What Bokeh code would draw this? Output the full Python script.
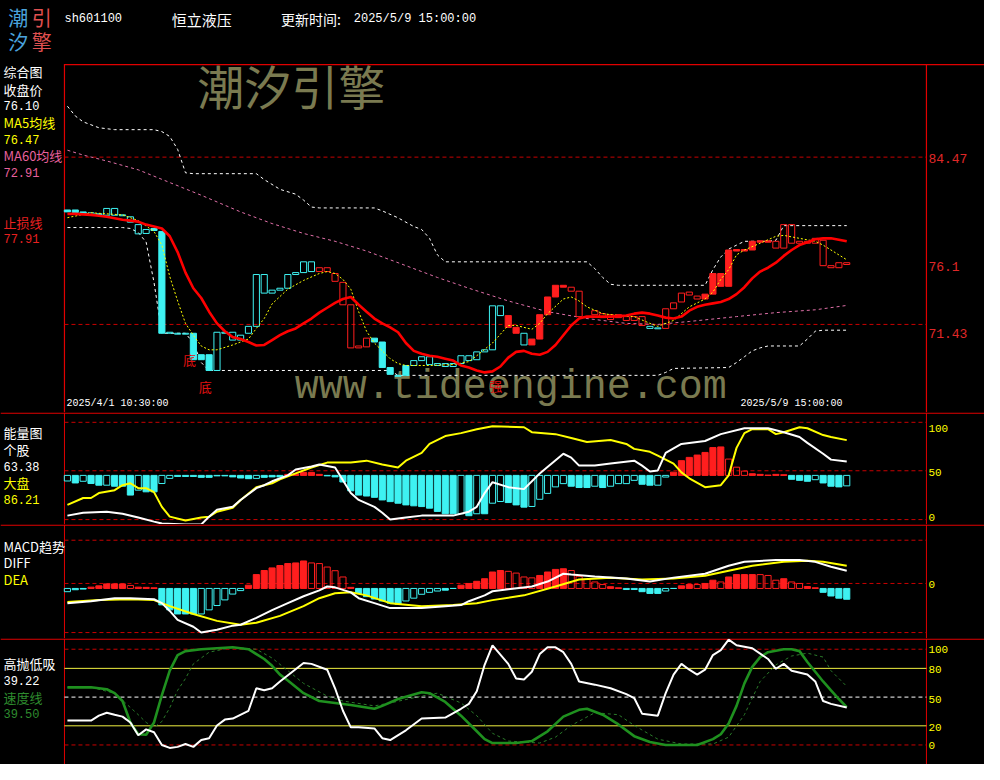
import re
from bokeh.plotting import figure
from bokeh.models import ColumnDataSource, Range1d, Span, Label
from bokeh.layouts import column
from bokeh.embed import file_html
from bokeh.resources import INLINE
from bokeh.core.properties import value

# ---------------- data (60-minute bars, 2025/4/1 10:30 -> 2025/5/9 15:00) ----------------
STOCK_CODE = "sh601100"
STOCK_NAME = "恒立液压"
UPDATE_LABEL = "更新时间:"
UPDATE_TIME = "2025/5/9 15:00:00"
FIRST_BAR_TIME = "2025/4/1 10:30:00"
LAST_BAR_TIME = "2025/5/9 15:00:00"

OPEN = [80.35, 80.35, 80.20, 80.13, 80.05, 79.94, 80.47, 79.97, 79.82, 79.21,
        78.52, 78.91, 78.68, 70.74, 70.74, 70.67, 70.74, 69.07, 69.07, 67.84,
        70.74, 70.82, 70.21, 70.74, 71.28, 75.32, 73.87, 74.10, 74.25, 75.32,
        75.47, 76.31, 75.55, 75.85, 75.40, 74.71, 72.96, 69.60, 69.68, 70.36,
        70.06, 68.07, 67.46, 67.46, 68.23, 68.61, 68.91, 68.23, 68.38, 68.15,
        68.38, 68.99, 68.68, 69.29, 69.45, 72.88, 72.12, 71.20, 70.74, 69.83,
        70.29, 72.19, 73.57, 74.48, 74.33, 74.02, 72.04, 72.19, 72.27, 71.81,
        72.19, 71.74, 72.04, 72.04, 71.28, 71.16, 71.12, 72.65, 73.18, 73.72,
        73.64, 73.41, 73.79, 75.40, 74.40, 77.15, 77.27, 77.23, 77.84, 77.95,
        77.38, 77.38, 79.21, 77.76, 77.91, 77.76, 77.99, 76.01, 75.85, 76.24]
CLOSE = [80.20, 80.16, 80.05, 79.97, 79.97, 80.47, 79.94, 79.90, 79.40, 78.49,
         78.83, 78.75, 70.74, 70.82, 70.67, 70.74, 68.68, 68.68, 67.84, 70.82,
         70.82, 70.21, 70.59, 71.28, 75.32, 73.87, 74.10, 74.25, 75.32, 75.47,
         76.31, 75.55, 75.85, 75.55, 74.79, 72.96, 69.60, 69.75, 70.36, 70.06,
         68.07, 67.54, 67.39, 68.23, 68.61, 68.91, 68.30, 68.38, 68.15, 68.38,
         68.99, 68.61, 69.29, 69.45, 72.88, 72.12, 71.20, 70.74, 69.83, 70.29,
         72.19, 73.57, 74.48, 74.33, 74.02, 72.04, 71.96, 72.50, 71.96, 72.19,
         71.96, 72.04, 71.74, 71.35, 71.12, 71.09, 72.65, 73.11, 73.87, 73.95,
         73.41, 73.79, 75.40, 74.40, 77.23, 77.27, 77.15, 77.91, 77.95, 77.84,
         77.91, 79.21, 77.76, 77.91, 77.76, 78.14, 76.01, 75.85, 76.24, 76.10]
CANDLE_COLOR = (["c"] * 32 + ["r"] * 7 + ["c"] * 17 + ["r"] * 2 + ["c"] +
                ["r"] * 15 + ["c"] * 2 + ["r"] * 24)
CANDLE_SOLID = [1, 1, 1, 0, 1, 0, 0, 0, 0, 0,
                0, 1, 1, 0, 0, 0, 1, 1, 1, 0,
                0, 0, 0, 0, 0, 0, 0, 0, 0, 0,
                0, 0, 0, 0, 0, 0, 0, 0, 0, 1,
                1, 1, 1, 1, 0, 0, 0, 0, 0, 0,
                0, 0, 0, 0, 0, 0, 1, 1, 0, 1,
                1, 1, 1, 1, 0, 0, 0, 0, 0, 0,
                0, 0, 0, 0, 0, 0, 0, 0, 0, 0,
                0, 1, 1, 1, 1, 1, 1, 1, 1, 1,
                0, 0, 0, 0, 0, 0, 0, 0, 0, 0]

STOP_LINE = [80.05, 80.05, 80.01, 79.97, 79.90, 79.82, 79.71, 79.59, 79.52, 79.44,
             79.21, 79.06, 78.91, 78.30, 77.07, 75.47, 74.25, 73.49, 72.42, 71.51,
             70.90, 70.44, 70.29, 70.06, 69.79, 69.83, 70.21, 70.59, 70.90, 71.12,
             71.51, 71.89, 72.35, 72.73, 73.11, 73.41, 73.57, 72.96, 72.42, 71.89,
             71.51, 71.20, 70.82, 69.98, 69.37, 69.14, 68.99, 68.91, 68.76, 68.61,
             68.23, 68.07, 67.84, 67.69, 67.77, 68.15, 68.84, 69.29, 69.37, 69.14,
             69.07, 69.29, 69.83, 70.59, 71.35, 71.89, 72.04, 72.04, 72.04, 72.04,
             72.08, 72.12, 72.27, 72.35, 72.27, 72.12, 71.96, 71.89, 72.04, 72.50,
             72.80, 72.96, 73.07, 73.18, 73.41, 73.79, 74.33, 75.02, 75.55, 75.85,
             76.24, 76.77, 77.23, 77.61, 77.84, 78.07, 78.14, 78.14, 78.03, 77.91]

MA5_X = [0, 3, 7, 9, 11, 12, 13, 14, 15, 16, 17, 18, 19, 21, 23, 24, 25, 26, 28, 30,
         32, 33, 34, 35, 36, 37, 38, 39, 40, 41, 42, 43, 46, 49, 51, 52, 54, 56, 57, 59,
         60, 61, 63, 64, 65, 66, 68, 70, 72, 74, 75, 77, 79, 81, 82, 83, 84, 85, 86, 88,
         90, 91, 93, 95, 96, 97, 98, 99]
MA5_Y = [79.75, 80.13, 79.97, 79.52, 78.68, 77.61, 75.17, 73.26, 71.51, 70.59,
         69.75, 69.45, 69.45, 69.83, 70.29, 71.12, 71.89, 73.03, 74.18, 74.86,
         75.40, 75.55, 75.40, 74.94, 74.18, 72.42, 70.90, 69.98, 69.37, 68.76,
         68.38, 68.23, 68.23, 68.30, 68.53, 68.99, 69.98, 71.35, 71.35, 71.05,
         71.51, 72.27, 73.41, 73.57, 73.26, 72.80, 72.27, 72.12, 72.04, 71.51,
         71.28, 71.74, 72.80, 73.41, 73.95, 74.94, 75.70, 76.85, 77.23, 77.76,
         78.30, 78.37, 78.14, 77.91, 77.61, 77.23, 76.85, 76.47]

MA60_X = [0, 2, 5, 9, 13, 17, 22, 26, 30, 34, 38, 42, 47, 51, 56, 61, 66, 71, 75, 79,
          85, 90, 95, 99]
MA60_Y = [85.01, 84.63, 84.17, 83.48, 82.49, 81.50, 80.20, 79.29, 78.52, 77.91,
          77.15, 76.24, 75.09, 74.25, 73.26, 72.42, 71.89, 71.51, 71.43, 71.66,
          72.04, 72.35, 72.57, 72.91]

UPPER_X = [0, 1, 2, 4, 6, 11, 12, 13, 14, 15, 16, 24, 25, 27, 29, 30, 31, 32, 39, 40,
           42, 44, 45, 46, 47, 48, 66, 67, 68, 69, 70, 81, 82, 83, 84, 85, 86, 89, 90, 91,
           99]
UPPER_Y = [88.44, 87.68, 87.22, 86.76, 86.61, 86.61, 86.46, 86.08, 85.08, 83.25,
           83.18, 83.18, 82.72, 81.96, 81.58, 81.12, 80.58, 80.51, 80.51, 80.28,
           79.74, 79.06, 78.83, 78.14, 76.85, 76.31, 76.31, 75.78, 75.09, 74.56,
           74.48, 74.48, 75.70, 76.69, 77.30, 77.61, 77.91, 77.91, 77.99, 79.13,
           79.13]
LOWER_X = [0, 7, 8, 9, 10, 11, 12, 15, 16, 17, 18, 41, 42, 75, 76, 77, 84, 85, 86, 87,
           88, 89, 93, 94, 95, 96, 99]
LOWER_Y = [78.98, 78.98, 78.91, 78.60, 77.84, 74.71, 70.74, 70.74, 69.98, 68.46,
           67.84, 67.84, 67.46, 67.46, 67.69, 68.00, 68.07, 68.46, 68.91, 69.37,
           69.60, 69.75, 69.75, 70.29, 70.90, 70.98, 70.98]

PRICE_LEVELS = [84.47, 71.43]
RIGHT_PRICE_TEXT = ["84.47", "76.1", "71.43"]
MAIN_LEGEND = [("综合图", "w"), ("收盘价", "w"), ("76.10", "w"), ("MA5均线", "y"), ("76.47", "y"),
               ("MA60均线", "p"), ("72.91", "p"), ("止损线", "r"), ("77.91", "r")]
SIGNAL_X = [15.5, 17.5, 54.4]
SIGNAL_Y = [68.68, 66.62, 66.70]
SIGNAL_TEXT = ["底", "底", "强"]

# energy panel
ENERGY_HIST = [-6.0, -8.1, -6.3, -8.7, -10.5, -10.5, -11.6, -11.6, -21.1, -15.8,
               -17.6, -17.6, -8.7, -3.2, -1.1, -1.1, -1.1, -2.1, -2.1, -0.5,
               -0.5, -1.6, -2.8, -3.5, -3.2, -2.1, -1.6, -1.6, 1.1, 1.6,
               3.2, 3.2, 1.1, -0.5, -1.6, -7.1, -16.5, -21.1, -22.1, -23.5,
               -26.3, -28.1, -29.8, -31.6, -32.6, -33.4, -35.1, -38.6, -41.1, -41.1,
               -41.1, -43.2, -41.1, -41.1, -29.8, -28.0, -29.1, -31.6, -34.0, -33.3,
               -25.6, -19.3, -12.3, -8.8, -11.6, -13.0, -13.0, -11.6, -13.0, -11.6,
               -8.8, -8.8, -5.3, -9.5, -10.5, -10.5, -1.8, 3.5, 15.8, 19.3,
               21.8, 24.6, 29.8, 30.5, 17.5, 8.8, 4.6, 1.8, 1.1, 0.3,
               1.1, 0.7, -4.2, -5.3, -6.3, -4.6, -8.1, -11.6, -12.3, -11.2]
ENERGY_SOLID = [0, 1, 0, 1, 1, 0, 1, 1, 1, 0,
                1, 1, 0, 0, 1, 1, 1, 1, 1, 1,
                1, 1, 1, 1, 0, 1, 1, 1, 1, 1,
                1, 1, 1, 1, 1, 1, 1, 1, 1, 1,
                1, 1, 1, 1, 1, 1, 1, 1, 1, 1,
                0, 1, 0, 1, 0, 0, 1, 1, 1, 0,
                0, 0, 0, 0, 1, 1, 1, 0, 1, 0,
                0, 0, 0, 1, 1, 0, 0, 1, 1, 1,
                1, 1, 1, 1, 0, 0, 0, 1, 1, 1,
                1, 1, 1, 1, 1, 0, 1, 1, 1, 0]
ENERGY_BASE = 48.4
STOCK_X = [0, 2, 5, 7, 9, 11, 12, 15, 17, 18, 19, 21, 22, 24, 25, 26, 28, 29, 31, 32,
           34, 35, 36, 37, 39, 40, 41, 43, 45, 47, 49, 51, 52, 53, 54, 56, 58, 60, 63, 64,
           65, 67, 69, 72, 73, 74, 75, 76, 78, 81, 83, 86, 89, 91, 93, 94, 96, 97, 99]
STOCK_Y = [5.3, 8.4, 9.5, 7.4, 3.2, -1.1, -3.2, -4.2, -4.2, 4.2,
           11.6, 14.7, 22.1, 34.7, 37.9, 42.1, 48.4, 54.7, 57.9, 60.0,
           56.8, 43.2, 29.5, 22.1, 14.7, 8.4, 1.1, 3.2, 5.3, 5.3,
           5.3, 9.5, 14.7, 29.5, 41.1, 35.8, 33.7, 50.5, 71.6, 67.4,
           58.9, 58.9, 61.1, 64.2, 58.9, 52.6, 53.7, 72.6, 82.1, 85.3,
           92.6, 98.9, 98.9, 94.7, 89.5, 83.2, 71.6, 65.3, 63.38]
MARKET_X = [0, 2, 3, 4, 6, 7, 8, 9, 10, 11, 12, 13, 15, 17, 18, 19, 21, 22, 24, 26,
            27, 29, 31, 33, 36, 38, 40, 42, 43, 45, 46, 48, 50, 52, 54, 58, 59, 62, 64, 66,
            69, 71, 72, 74, 75, 77, 78, 79, 81, 83, 84, 85, 86, 87, 89, 90, 91, 93, 94, 96,
            97, 99]
MARKET_Y = [16.8, 24.2, 24.2, 29.5, 32.6, 37.9, 40.0, 34.7, 34.7, 30.5,
            14.7, 4.2, 0.0, 3.2, 4.2, 9.5, 13.7, 22.1, 35.8, 40.0,
            44.2, 50.5, 56.8, 62.1, 62.1, 64.2, 60.0, 56.8, 64.2, 72.6,
            82.1, 90.5, 93.7, 97.9, 101.1, 100.0, 94.7, 92.6, 88.4, 84.2,
            86.3, 82.1, 76.8, 73.7, 69.5, 61.1, 51.6, 45.3, 35.8, 37.9,
            48.4, 77.9, 93.7, 97.9, 97.9, 92.6, 94.7, 100.0, 98.9, 91.6,
            89.5, 86.21]
ENERGY_TICKS = ["100", "50", "0"]
ENERGY_LEGEND = [("能量图", "w"), ("个股", "w"), ("63.38", "w"), ("大盘", "y"), ("86.21", "y")]

# MACD panel
MACD_HIST = [-0.15, -0.06, -0.03, 0.06, 0.12, 0.21, 0.21, 0.21, 0.14, 0.06,
             0.05, 0.03, -0.76, -0.99, -1.18, -1.18, -1.18, -1.18, -0.99, -0.79,
             -0.53, -0.26, -0.10, 0.15, 0.64, 0.83, 0.95, 1.06, 1.15, 1.18,
             1.27, 1.18, 1.15, 0.99, 0.82, 0.53, 0.05, -0.23, -0.38, -0.49,
             -0.58, -0.68, -0.73, -0.58, -0.45, -0.27, -0.18, -0.12, -0.08, 0.00,
             0.15, 0.23, 0.33, 0.45, 0.76, 0.83, 0.79, 0.71, 0.53, 0.49,
             0.60, 0.76, 0.88, 0.91, 0.83, 0.56, 0.42, 0.30, 0.18, 0.08,
             0.03, -0.05, -0.05, -0.15, -0.23, -0.23, -0.12, 0.00, 0.12, 0.18,
             0.18, 0.23, 0.38, 0.30, 0.53, 0.64, 0.64, 0.64, 0.64, 0.60,
             0.38, 0.45, 0.30, 0.23, 0.09, 0.03, -0.18, -0.35, -0.45, -0.50]
MACD_SOLID = [0, 1, 1, 1, 1, 1, 1, 1, 0, 1,
              1, 1, 1, 1, 1, 1, 1, 0, 0, 0,
              0, 0, 0, 1, 1, 1, 1, 1, 1, 1,
              1, 0, 0, 0, 0, 0, 1, 1, 1, 1,
              1, 1, 1, 0, 0, 0, 0, 0, 1, 1,
              1, 1, 1, 1, 1, 1, 0, 0, 0, 0,
              1, 1, 1, 1, 0, 0, 0, 0, 0, 1,
              1, 0, 0, 1, 1, 1, 0, 1, 1, 1,
              0, 1, 1, 0, 1, 1, 1, 1, 0, 0,
              0, 1, 0, 0, 1, 1, 1, 1, 1, 1]
MACD_BASE = -0.23
DIFF_X = [0, 3, 6, 8, 11, 12, 13, 14, 16, 17, 19, 21, 22, 24, 26, 28, 30, 32, 33, 34,
          36, 37, 39, 41, 45, 48, 50, 51, 53, 54, 56, 59, 61, 63, 64, 67, 71, 74, 77, 81,
          84, 86, 90, 93, 95, 97, 99]
DIFF_Y = [-0.91, -0.82, -0.68, -0.68, -0.73, -0.91, -1.27, -1.68, -2.00, -2.27,
          -2.14, -1.95, -1.91, -1.59, -1.23, -0.91, -0.59, -0.32, -0.14, -0.18,
          -0.41, -0.68, -0.91, -1.14, -1.14, -1.05, -1.00, -0.82, -0.55, -0.36,
          -0.27, -0.14, 0.09, 0.45, 0.41, 0.32, 0.23, 0.09, 0.27, 0.45,
          0.82, 1.00, 1.09, 1.09, 1.00, 0.77, 0.59]
DEA_X = [0, 4, 8, 11, 13, 16, 19, 22, 24, 27, 30, 32, 34, 36, 38, 41, 45, 49, 52, 54,
         58, 62, 65, 69, 73, 77, 81, 84, 87, 91, 94, 96, 99]
DEA_Y = [-0.86, -0.77, -0.73, -0.77, -1.05, -1.41, -1.73, -1.91, -1.82, -1.50,
         -1.05, -0.68, -0.45, -0.41, -0.55, -0.91, -1.05, -1.00, -0.91, -0.77,
         -0.55, -0.14, 0.18, 0.27, 0.18, 0.23, 0.36, 0.59, 0.82, 1.00,
         1.05, 1.00, 0.82]
MACD_TICKS = ["0"]
MACD_LEGEND = [("MACD趋势", "w"), ("DIFF", "w"), ("DEA", "y")]

# high-sell / low-buy panel
HL_X = [0, 3, 4, 5, 6, 7, 8, 9, 10, 11, 12, 13, 14, 15, 16, 17, 18, 19, 20, 21,
        23, 24, 25, 26, 27, 30, 31, 33, 34, 35, 36, 37, 39, 40, 41, 43, 45, 48, 50, 51,
        52, 53, 54, 56, 57, 58, 59, 60, 61, 62, 63, 64, 65, 67, 69, 71, 72, 73, 75, 76,
        77, 78, 79, 80, 81, 82, 83, 84, 85, 87, 89, 90, 91, 92, 94, 95, 96, 97, 99]
HL_Y = [25.5, 25.5, 30.6, 33.7, 31.6, 29.6, 23.5, 10.2, 16.3, 13.3,
        0.0, -3.1, -2.0, 1.0, -2.0, 5.1, 7.1, 20.4, 26.5, 27.6,
        35.7, 59.2, 57.1, 59.2, 66.3, 85.7, 84.7, 78.6, 59.2, 35.7,
        18.4, 18.4, 17.3, 7.1, 5.1, 15.3, 27.6, 28.6, 37.8, 42.9,
        56.1, 83.7, 104.1, 84.7, 69.4, 68.4, 76.5, 94.9, 102.0, 102.0,
        96.9, 84.7, 66.3, 63.0, 59.2, 53.1, 49.0, 32.7, 30.6, 54.1,
        73.5, 84.7, 78.6, 73.5, 78.6, 93.9, 99.0, 110.0, 104.1, 101.0,
        89.8, 79.6, 84.7, 77.6, 73.5, 66.3, 45.9, 42.9, 39.22]
SPEED_X = [0, 3, 5, 6, 7, 8, 9, 10, 11, 12, 13, 14, 15, 17, 21, 23, 25, 26, 27, 28,
           30, 32, 34, 36, 39, 40, 42, 45, 46, 48, 50, 52, 53, 54, 57, 59, 61, 63, 65, 66,
           68, 70, 72, 74, 76, 80, 82, 83, 84, 85, 86, 87, 88, 89, 91, 92, 93, 94, 95, 96,
           97, 98, 99]
SPEED_Y = [60.2, 60.2, 58.2, 54.1, 45.9, 23.5, 11.2, 10.7, 23.5, 52.0,
           77.6, 93.9, 98.0, 100.0, 102.0, 100.0, 89.8, 82.7, 73.5, 67.3,
           54.1, 45.9, 43.9, 41.8, 37.8, 40.8, 48.0, 55.1, 54.1, 44.9,
           30.6, 14.3, 6.1, 2.0, 2.0, 4.1, 14.3, 29.6, 36.7, 37.8,
           31.6, 21.4, 9.2, 3.1, 0.0, 0.0, 6.1, 11.2, 22.4, 40.8,
           64.3, 81.6, 91.8, 96.9, 100.0, 100.0, 98.0, 86.7, 76.5, 66.3,
           57.1, 48.0, 39.5]
SPEED_MA_X = [0, 3, 6, 9, 10, 11, 12, 13, 14, 15, 16, 18, 21, 24, 26, 28, 30, 33, 35, 39,
              41, 45, 47, 50, 52, 54, 56, 60, 62, 64, 67, 70, 72, 75, 78, 82, 84, 86, 88, 90,
              92, 94, 96, 97, 99]
SPEED_MA_Y = [60.2, 60.2, 54.1, 31.6, 23.5, 18.4, 24.5, 38.8, 57.1, 69.4,
              84.7, 96.9, 102.0, 100.0, 90.8, 77.6, 64.3, 51.0, 45.9, 40.8,
              43.9, 51.0, 54.1, 43.9, 30.6, 12.2, 4.1, 2.0, 8.2, 20.4,
              33.7, 31.6, 20.4, 6.1, 1.0, 1.0, 8.2, 31.6, 66.3, 83.7,
              92.9, 95.9, 91.8, 77.6, 61.2]
HL_RED_LEVELS = [100, 0]
HL_YELLOW_LEVELS = [80, 20]
HL_MID_LEVEL = [50]
HL_TICKS = ["100", "80", "50", "20", "0"]
HL_LEGEND = [("高抛低吸", "w"), ("39.22", "w"), ("速度线", "g"), ("39.50", "g")]

# ---------------- styling / layout helpers ----------------
BG = "#000000"
FRAME_RED = "#e00000"
GRID_RED = "#c80000"
RED = "#ff1e1e"
CYAN = "#3ef2f2"
YELLOW = "#ffff00"
WHITE = "#ffffff"
PINK = "#e070a8"
GREEN = "#1f901f"
GREEN_DARK = "#2a7a2a"
WM = "#7a7a50"
COLORS = {"w": WHITE, "y": YELLOW, "p": "#e8609e", "r": "#e82020", "g": "#2e8b2e"}
FONT_CJK = "Noto Sans CJK SC"
FONT_MONO = "Liberation Mono"

W = 984
XL, XR = -8.5, 116.5          # whole canvas: reference x 0..1000, 8 ref-px per bar


def xpos(rx):
    return -0.375 + (rx - 65) / 8.0


def make_panel(height, ref_top, ref_bot, f_top, f_bot, vtop, vbot):
    k = (vtop - vbot) / (f_bot - f_top)
    p = figure(width=W, height=height, title=None, toolbar_location=None,
               output_backend="svg", x_axis_type=None, y_axis_type=None,
               x_range=Range1d(XL, XR),
               y_range=Range1d(vbot - (ref_bot - f_bot) * k, vtop + (f_top - ref_top) * k),
               min_border_left=0, min_border_right=0, min_border_top=0, min_border_bottom=0,
               outline_line_color=None, background_fill_color=BG, border_fill_color=BG,
               styles={"background-color": BG})

    def ymap(ry):
        return vtop - (ry - f_top) * k
    return p, ymap


def label(p, ymap, rx, ry, text, color, size, font, align="left", baseline="middle", level="annotation"):
    p.add_layout(Label(x=xpos(rx), y=ymap(ry), text=text, text_color=color,
                       text_font_size=f"{size}px", text_font=font, text_align=align,
                       text_baseline=baseline, level=level))


def is_num(s):
    return s.replace(".", "").isdigit()


def legend(p, ymap, items, ys):
    for (t, c), ry in zip(items, ys):
        if is_num(t):
            label(p, ymap, 3, ry, t, COLORS[c], 12, FONT_MONO)
        else:
            label(p, ymap, 3, ry, t, COLORS[c], 13, FONT_CJK)


def guides(p, levels, color, dash="4 3", width=1):
    n = len(levels)
    p.segment(x0=[xpos(65)] * n, x1=[xpos(941)] * n, y0=levels, y1=levels,
              line_color=color, line_dash=dash, line_width=width)


def frame_sides(p, ymap, ref_top):
    for rx in (65, 941):
        p.add_layout(Span(location=xpos(rx), dimension="height", line_color=FRAME_RED,
                          line_width=1, level="underlay"))
    p.add_layout(Span(location=ymap(ref_top + 0.6), dimension="width", line_color=FRAME_RED,
                      line_width=1.4, level="underlay"))


def bars(p, hist, base, solid, width=0.78):
    src = ColumnDataSource(dict(
        x=list(range(len(hist))),
        top=[base + max(v, 0) for v in hist],
        bottom=[base + min(v, 0) for v in hist],
        col=[RED if v > 0 else CYAN for v in hist],
        alpha=[1.0 if s else 0.0 for s in solid]))
    p.vbar(x="x", width=width, top="top", bottom="bottom", source=src,
           line_color="col", fill_color="col", fill_alpha="alpha", line_width=1)


IDX = list(range(len(OPEN)))

# ---------------- main panel ----------------
p1, y1 = make_panel(412, 0, 421, 65, 421, 91.72, 64.565)
p1.segment(x0=[xpos(65), xpos(941), xpos(65)], x1=[xpos(65), xpos(941), xpos(1000)],
           y0=[y1(65), y1(65), y1(65.5)], y1=[y1(422), y1(422), y1(65.5)],
           line_color=FRAME_RED, line_width=1.2)
guides(p1, PRICE_LEVELS, GRID_RED)

label(p1, y1, 200, 86, "潮汐引擎", WM, 47, FONT_CJK, level="underlay")
label(p1, y1, 299, 418, "www.tideengine.com", WM, 40, FONT_MONO, baseline="bottom", level="underlay")

p1.line(UPPER_X, UPPER_Y, line_color=WHITE, line_dash="3 3", line_width=1)
p1.line(LOWER_X, LOWER_Y, line_color=WHITE, line_dash="3 3", line_width=1)
p1.line(MA60_X, MA60_Y, line_color=PINK, line_dash="3 3", line_width=1)

csrc = ColumnDataSource(dict(
    x=IDX,
    top=[max(o, c) for o, c in zip(OPEN, CLOSE)],
    bottom=[min(o, c) for o, c in zip(OPEN, CLOSE)],
    col=[RED if k == "r" else CYAN for k in CANDLE_COLOR],
    alpha=[1.0 if s else 0.0 for s in CANDLE_SOLID]))
p1.vbar(x="x", width=0.78, top="top", bottom="bottom", source=csrc,
        line_color="col", fill_color="col", fill_alpha="alpha", line_width=1)

p1.line(MA5_X, MA5_Y, line_color=YELLOW, line_dash="2 2", line_width=1)
p1.line(IDX, STOP_LINE, line_color="#ff0000", line_width=2.6)

p1.text(x=SIGNAL_X, y=SIGNAL_Y, text=SIGNAL_TEXT, text_color="#e01010",
        text_font=value(FONT_CJK), text_font_size="13px",
        text_align="center", text_baseline="middle")

# header
label(p1, y1, 18, 17, "潮", "#4aa3dc", 20, FONT_CJK, align="center")
label(p1, y1, 42, 17, "引", "#e05050", 20, FONT_CJK, align="center")
label(p1, y1, 18, 42, "汐", "#4aa3dc", 20, FONT_CJK, align="center")
label(p1, y1, 42, 42, "擎", "#e05050", 20, FONT_CJK, align="center")
label(p1, y1, 65, 19, STOCK_CODE, WHITE, 12, FONT_MONO)
label(p1, y1, 174, 19, STOCK_NAME, WHITE, 15, FONT_CJK)
label(p1, y1, 285, 19, UPDATE_LABEL, WHITE, 14, FONT_CJK)
label(p1, y1, 359, 19, UPDATE_TIME, WHITE, 12, FONT_MONO)

label(p1, y1, 67, 412, FIRST_BAR_TIME, WHITE, 10, FONT_MONO)
label(p1, y1, 752, 412, LAST_BAR_TIME, WHITE, 10, FONT_MONO)

legend(p1, y1, MAIN_LEGEND, [73, 90.5, 107, 124.5, 142, 158.5, 176, 227, 243])
for t, ry in zip(RIGHT_PRICE_TEXT, [161, 272, 340]):
    label(p1, y1, 943, ry, t, "#e02828", 13, FONT_MONO)

# ---------------- energy panel ----------------
p2, y2 = make_panel(112, 421, 535, 421, 535, 115.79, -4.21)
frame_sides(p2, y2, 421)
guides(p2, [y2(431), y2(480.3), y2(530)], GRID_RED)
bars(p2, ENERGY_HIST, ENERGY_BASE, ENERGY_SOLID)
p2.line(MARKET_X, MARKET_Y, line_color=YELLOW, line_width=2)
p2.line(STOCK_X, STOCK_Y, line_color=WHITE, line_width=2)
legend(p2, y2, ENERGY_LEGEND, [441, 458.5, 476, 492.5, 510])
for t, ry in zip(ENERGY_TICKS, [437, 482, 527.5]):
    label(p2, y2, 943, ry, t, YELLOW, 11, FONT_MONO)

# ---------------- MACD panel ----------------
p3, y3 = make_panel(114, 535, 651, 535, 651, 2.727, -2.545)
frame_sides(p3, y3, 535)
guides(p3, [2.0, 0.0, -2.27], GRID_RED)
bars(p3, MACD_HIST, MACD_BASE, MACD_SOLID)
p3.line(DEA_X, DEA_Y, line_color=YELLOW, line_width=2)
p3.line(DIFF_X, DIFF_Y, line_color=WHITE, line_width=2)
legend(p3, y3, MACD_LEGEND, [557, 574, 591])
for t, ry in zip(MACD_TICKS, [596]):
    label(p3, y3, 943, ry, t, YELLOW, 11, FONT_MONO)

# ---------------- high-sell / low-buy panel ----------------
p4, y4 = make_panel(126, 651, 780, 651, 760, 111.2, 0.0)
frame_sides(p4, y4, 651)
guides(p4, HL_RED_LEVELS, GRID_RED)
guides(p4, HL_YELLOW_LEVELS, "#f0f040", dash="solid")
guides(p4, HL_MID_LEVEL, WHITE)
p4.line(SPEED_MA_X, SPEED_MA_Y, line_color=GREEN_DARK, line_dash="3 3", line_width=1)
p4.line(SPEED_X, SPEED_Y, line_color=GREEN, line_width=2.6)
p4.line(HL_X, HL_Y, line_color=WHITE, line_width=2)
legend(p4, y4, HL_LEGEND, [676.5, 693.5, 711, 727.5])
for t, ry in zip(HL_TICKS, [662, 683, 713, 742, 761]):
    label(p4, y4, 943, ry, t, YELLOW, 11, FONT_MONO)

layout = column(p1, p2, p3, p4, spacing=0, styles={"background-color": BG})
html = file_html(layout, INLINE, title="恒立液压")
html = re.sub(r"<body([^>]*)>", r'<body\1 style="background-color:#000000;">', html, count=1)
with open("out.html", "w", encoding="utf-8") as f:
    f.write(html)
